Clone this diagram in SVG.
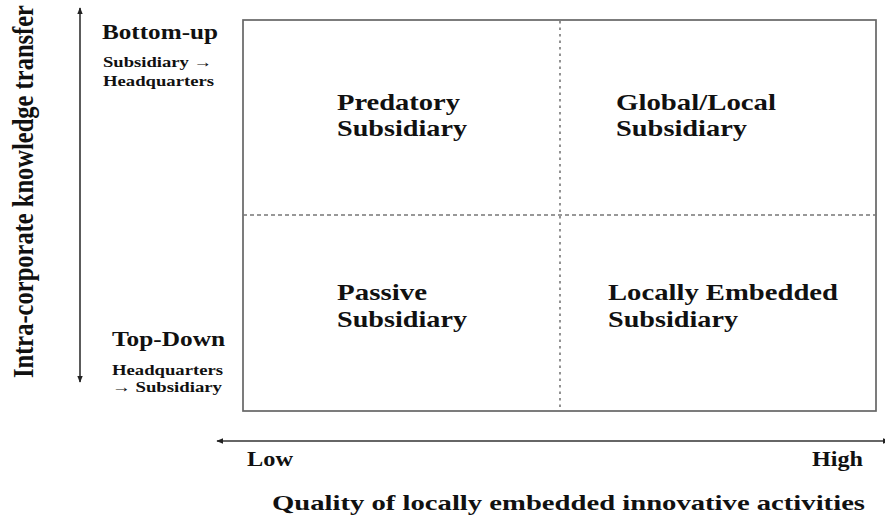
<svg xmlns="http://www.w3.org/2000/svg" width="885" height="519" viewBox="0 0 885 519">
  <style>
    .t { font-family: "Liberation Serif", "Times New Roman", serif; font-weight: bold; fill: #111; }
    .big { font-size: 24px; }
    .mid { font-size: 20px; }
    .small { font-size: 15px; }
    .axis { stroke: #333; stroke-width: 1.6; fill: none; }
    .frame { stroke: #666; stroke-width: 1.7; fill: #fff; }
    .dash-h { stroke: #777; stroke-width: 1.3; stroke-dasharray: 4 3; }
    .dash-v { stroke: #777; stroke-width: 1.6; stroke-dasharray: 2.5 4; }
  </style>
  <defs>
    <marker id="arrow" viewBox="0 0 10 10" refX="9" refY="5" markerWidth="7" markerHeight="7" orient="auto-start-reverse" markerUnits="userSpaceOnUse">
      <path d="M0,1 L10,5 L0,9 Z" fill="#222"/>
    </marker>
  </defs>
  <rect width="885" height="519" fill="#fff"/>

  <!-- connectors: axes and quadrant grid -->
  <g id="connectors">
    <line class="axis" x1="80" y1="8" x2="80" y2="382" marker-start="url(#arrow)" marker-end="url(#arrow)"/>
    <line class="axis" x1="217" y1="441" x2="889" y2="441" stroke="#555" stroke-width="2" marker-start="url(#arrow)" marker-end="url(#arrow)"/>
  </g>

  <g id="matrix">
    <rect class="frame" x="243" y="20" width="633" height="391"/>
    <line class="dash-h" x1="243" y1="215" x2="876" y2="215"/>
    <line class="dash-v" x1="560" y1="21" x2="560" y2="410"/>
  </g>

  <!-- quadrants -->
  <g id="predatory">
    <text class="t big" x="337" y="110" textLength="123" lengthAdjust="spacingAndGlyphs">Predatory</text>
    <text class="t big" x="337" y="136" textLength="130" lengthAdjust="spacingAndGlyphs">Subsidiary</text>
  </g>
  <g id="global-local">
    <text class="t big" x="616" y="110" textLength="160" lengthAdjust="spacingAndGlyphs">Global/Local</text>
    <text class="t big" x="616" y="136" textLength="131" lengthAdjust="spacingAndGlyphs">Subsidiary</text>
  </g>
  <g id="passive">
    <text class="t big" x="337" y="300" textLength="90" lengthAdjust="spacingAndGlyphs">Passive</text>
    <text class="t big" x="337" y="327" textLength="130" lengthAdjust="spacingAndGlyphs">Subsidiary</text>
  </g>
  <g id="locally-embedded">
    <text class="t big" x="608" y="300" textLength="230" lengthAdjust="spacingAndGlyphs">Locally Embedded</text>
    <text class="t big" x="608" y="327" textLength="130" lengthAdjust="spacingAndGlyphs">Subsidiary</text>
  </g>

  <!-- vertical axis labels -->
  <g id="bottom-up">
    <text class="t mid" x="102" y="39" textLength="116" lengthAdjust="spacingAndGlyphs">Bottom-up</text>
    <text class="t small" x="103" y="67" textLength="109" lengthAdjust="spacingAndGlyphs">Subsidiary →</text>
    <text class="t small" x="103" y="86" textLength="111" lengthAdjust="spacingAndGlyphs">Headquarters</text>
  </g>
  <g id="top-down">
    <text class="t mid" x="112" y="346" textLength="113" lengthAdjust="spacingAndGlyphs">Top-Down</text>
    <text class="t small" x="112" y="375" textLength="111" lengthAdjust="spacingAndGlyphs">Headquarters</text>
    <text class="t small" x="112" y="392" textLength="110" lengthAdjust="spacingAndGlyphs">→ Subsidiary</text>
  </g>
  <g id="y-title">
    <text class="t" font-size="24.5" transform="translate(33,378) scale(1.2,1) rotate(-90)" x="0" y="0" textLength="373" lengthAdjust="spacingAndGlyphs">Intra-corporate knowledge transfer</text>
  </g>

  <!-- horizontal axis labels -->
  <g id="x-low">
    <text class="t mid" x="247" y="466" textLength="46" lengthAdjust="spacingAndGlyphs">Low</text>
  </g>
  <g id="x-high">
    <text class="t mid" x="812" y="466" textLength="51" lengthAdjust="spacingAndGlyphs">High</text>
  </g>
  <g id="x-title">
    <text class="t" font-size="21" x="272" y="510" textLength="593" lengthAdjust="spacingAndGlyphs">Quality of locally embedded innovative activities</text>
  </g>
</svg>
